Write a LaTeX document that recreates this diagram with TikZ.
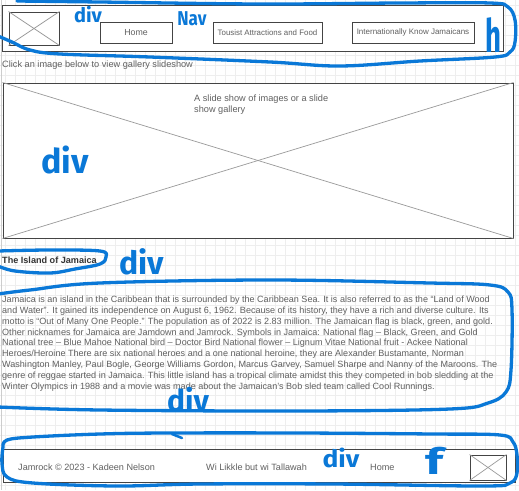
\documentclass[tikz,border=0pt]{standalone}
\usepackage{fontspec}
\setmainfont{Liberation Sans}
\newfontfamily\handfont{Fira Sans}
\definecolor{hblue}{HTML}{0A78D7}
\definecolor{gridc}{HTML}{EEEEEE}
\definecolor{boxc}{HTML}{444444}
\definecolor{xc}{HTML}{9A9A9A}
\definecolor{txtc}{HTML}{606060}
\definecolor{titc}{HTML}{333333}
\newcommand{\fs}[1]{\fontsize{#1}{#1}\selectfont}
\tikzset{
  frame/.style={draw=boxc, line width=1pt, fill=white, inner sep=0pt, minimum width=#1},
  btn/.style={draw=boxc, line width=0.9pt, fill=white, inner sep=0pt, minimum height=21pt, minimum width=#1, text=txtc},
  xline/.style={draw=xc, line width=0.7pt},
  body/.style={anchor=base west, inner sep=0pt, text=txtc, font=\fs{9.05}},
  hand/.style={text=hblue, inner sep=0pt, font=\handfont\bfseries},
  scrib/.style={draw=hblue, line width=3.3pt, line cap=round, line join=round}
}
\begin{document}
\begin{tikzpicture}[x=1pt,y=-1pt]
\useasboundingbox (0,0) rectangle (519,490);
\fill[white] (0,0) rectangle (519,490);
\foreach \i in {5,15,...,515} \draw[gridc, line width=0.5pt] (\i,0) -- (\i,490);
\foreach \j in {5,15,...,485} \draw[gridc, line width=0.5pt] (0,\j) -- (519,\j);
\draw[gridc!70!gray, line width=0.6pt] (1,0) -- (1,490);

% header
\node[frame=501pt, minimum height=46pt] (header) at (252.5,28) {};
\node[frame=50pt, minimum height=33pt] (logo) at (34,28.5) {};
\draw[xline] (logo.north west) -- (logo.south east);
\draw[xline] (logo.south west) -- (logo.north east);
\node[btn=72pt, font=\fs{8.8}] (home) at (136,32.5) {Home};
\node[btn=109pt, font=\fs{7.9}] (attr) at (267.5,32.5) {Tousist Attractions and Food};
\node[btn=122pt, font=\fs{8.0}] (intl) at (413,32.5) {Internationally Know Jamaicans};

\node[body, font=\fs{9.2}] (click) at (2,67) {Click an image below to view gallery slideshow};

% slideshow
\node[frame=510pt, minimum height=155pt] (slide) at (258,160.5) {};
\draw[xline] (slide.north west) -- (slide.south east);
\draw[xline] (slide.south west) -- (slide.north east);
\node[body, font=\fs{9.2}] (sl1) at (194,101) {A slide show of images or a slide};
\node[body, font=\fs{9.2}] (sl2) at (194,112) {show gallery};

% title
\node[body, text=titc, font=\fs{9.1}\bfseries] (title) at (2,263) {The Island of Jamaica};

% paragraph
\node[body] (p1) at (2,302.3) {Jamaica is an island in the Caribbean that is surrounded by the Caribbean Sea. It is also referred to as the “Land of Wood};
\node[body] (p2) at (2,313.2) {and Water”. It gained its independence on August 6, 1962. Because of its history, they have a rich and diverse culture. Its};
\node[body] (p3) at (2,324.1) {motto is “Out of Many One People.” The population as of 2022 is 2.83 million. The Jamaican flag is black, green, and gold.};
\node[body] (p4) at (2,335.0) {Other nicknames for Jamaica are Jamdown and Jamrock. Symbols in Jamaica: National flag – Black, Green, and Gold};
\node[body] (p5) at (2,345.9) {National tree – Blue Mahoe National bird – Doctor Bird National flower – Lignum Vitae National fruit - Ackee National};
\node[body] (p6) at (2,356.8) {Heroes/Heroine There are six national heroes and a one national heroine, they are Alexander Bustamante, Norman};
\node[body] (p7) at (2,367.7) {Washington Manley, Paul Bogle, George Williams Gordon, Marcus Garvey, Samuel Sharpe and Nanny of the Maroons. The};
\node[body] (p8) at (2,378.6) {genre of reggae started in Jamaica. This little island has a tropical climate amidst this they competed in bob sledding at the};
\node[body] (p9) at (2,389.5) {Winter Olympics in 1988 and a movie was made about the Jamaican’s Bob sled team called Cool Runnings.};

% footer
\node[frame=512pt, minimum height=33pt] (footer) at (259,465.5) {};
\node[body, font=\fs{9.1}] (copy) at (18,470) {Jamrock © 2023 - Kadeen Nelson};
\node[body, font=\fs{9.1}] (motto) at (206,470) {Wi Likkle but wi Tallawah};
\node[body, font=\fs{9.1}] (fhome) at (370,470) {Home};
\node[frame=36pt, minimum height=25pt] (flogo) at (488,467.5) {};
\draw[xline] (flogo.north west) -- (flogo.south east);
\draw[xline] (flogo.south west) -- (flogo.north east);

% blue scribbles
\draw[scrib] plot[smooth, tension=0.6] coordinates {(17,1) (100,2) (260,4) (400,3) (490,3) (508,7) (515,20) (515,42) (510,52) (495,57) (420,61) (340,66) (270,62) (150,57) (60,54) (30,50) (12,42) (-2,36)};
\draw[scrib] plot[smooth, tension=0.6] coordinates {(-2,266) (15,271) (50,273) (75,269) (100,264) (106,257) (100,251) (50,250) (-2,251)};
\draw[scrib] plot[smooth, tension=0.6] coordinates {(-2,294) (30,290) (100,283) (270,280) (430,283) (490,285) (508,292) (512,310) (511,370) (506,392) (488,403) (450,409) (300,411) (100,410) (-2,407)};
\draw[scrib] plot[smooth, tension=0.6] coordinates {(3,447) (7,440) (33,437) (100,434) (167,433) (300,433) (433,434) (500,435) (513,442) (517,455) (517,473) (510,483) (483,486) (333,484) (200,484) (117,486) (33,483) (7,477) (2,463) (3,447)};
\draw[scrib, line width=2.5pt] (172,434) -- (182,438);

\node[hand, font=\handfont\bfseries\fs{20}] (hdiv) at (88,15) {div};
\node[hand, font=\handfont\bfseries\fs{20}, xscale=0.85] (hnav) at (192,19) {Nav};
\node[hand, font=\handfont\bfseries\fs{46}, xscale=0.6] (hh) at (493,35) {h};
\node[hand, font=\handfont\bfseries\fs{32}] (idiv) at (142,262) {div};
\node[hand, font=\handfont\bfseries\fs{34}] (sdiv) at (65,160) {div};
\node[hand, font=\handfont\bfseries\fs{30}] (pdiv) at (188,400) {div};
\node[hand, font=\handfont\bfseries\fs{24}, xscale=1.1] (fdiv) at (341,458) {div};
\node[hand, font=\handfont\bfseries\fs{36}, xscale=1.4] (ff) at (434,461) {f};
\end{tikzpicture}
\end{document}
